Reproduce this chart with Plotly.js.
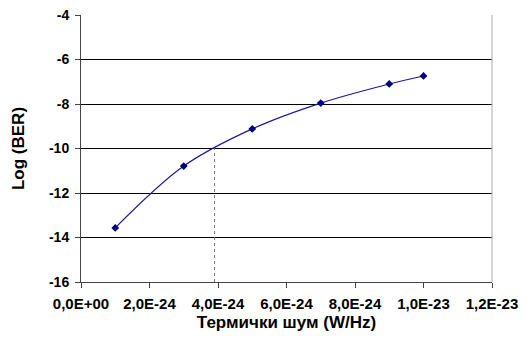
<!DOCTYPE html>
<html><head><meta charset="utf-8">
<script src="https://cdn.plot.ly/plotly-3.0.1.min.js"></script>
<style>html,body{margin:0;padding:0;background:#fff}#chart{width:526px;height:347px}</style>
</head><body><div id="chart"></div>
<script>
const noise = [1e-24, 3e-24, 5e-24, 7e-24, 9e-24, 1e-23];
const logBer = [-13.57, -10.79, -9.12, -7.96, -7.1, -6.74];
const refX = [3.9e-24, 3.9e-24];
const refY = [-16, -9.95];
const xTickVals = [0, 2e-24, 4e-24, 6e-24, 8e-24, 1e-23, 1.2e-23];
const xTickText = ['0,0E+00', '2,0E-24', '4,0E-24', '6,0E-24', '8,0E-24', '1,0E-23', '1,2E-23'];
const yTickVals = [-16, -14, -12, -10, -8, -6, -4];
const yTickText = ['-16', '-14', '-12', '-10', '-8', '-6', '-4'];

const fam = 'Liberation Sans';

const traces = [
  {x: refX, y: refY, mode: 'lines', line: {color: '#777', width: 1, dash: 'dot'}, hoverinfo: 'skip', showlegend: false},
  {x: noise, y: logBer, mode: 'lines+markers', line: {color: '#1a1a9a', width: 1.2, shape: 'spline', smoothing: 1},
   marker: {symbol: 'diamond', size: 6, color: '#000080'}, showlegend: false}
];

const layout = {
  width: 526, height: 347,
  margin: {l: 81, r: 34, t: 15, b: 65},
  paper_bgcolor: '#fff', plot_bgcolor: '#fff',
  font: {family: fam, size: 15, color: '#000', weight: 700},
  xaxis: {range: [0, 1.2e-23], tickvals: xTickVals, ticktext: xTickText, showgrid: false, zeroline: false,
    showline: true, linecolor: '#444', linewidth: 1, ticks: 'outside', ticklen: 5, tickcolor: '#444',
    tickfont: {family: fam, size: 15, color: '#000', weight: 700}, ticklabelstandoff: 3,
    title: {text: 'Термички шум (W/Hz)', font: {family: fam, size: 17, color: '#000', weight: 700}, standoff: 5}},
  yaxis: {range: [-16, -4], tickvals: yTickVals, ticktext: yTickText, showgrid: true, gridcolor: '#000', gridwidth: 1, zeroline: false,
    showline: true, linecolor: '#444', linewidth: 1, ticks: 'outside', ticklen: 5, tickcolor: '#444',
    tickfont: {family: fam, size: 14, color: '#000', weight: 700}, ticklabelstandoff: 3,
    title: {text: 'Log (BER)', font: {family: fam, size: 17, color: '#000', weight: 700}, standoff: 20}},
  shapes: [
    {type: 'line', xref: 'paper', yref: 'paper', x0: 1, x1: 1, y0: 0, y1: 1, line: {color: '#aaa', width: 1}}
  ]
};

Plotly.newPlot('chart', traces, layout, {displayModeBar: false, staticPlot: true});
</script></body></html>
